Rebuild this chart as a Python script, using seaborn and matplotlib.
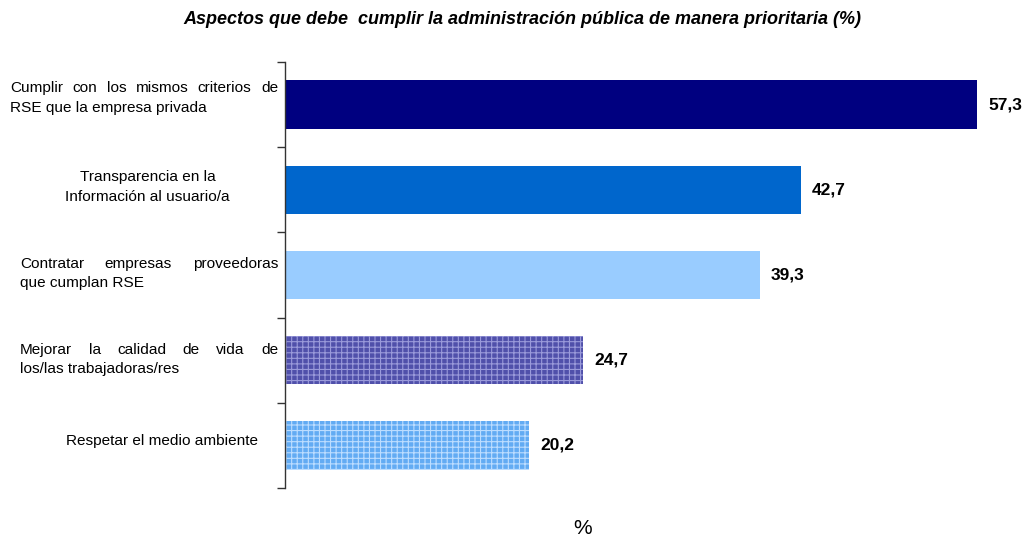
import matplotlib
matplotlib.use("Agg")
import matplotlib.pyplot as plt
from matplotlib.transforms import IdentityTransform
import seaborn as sns
import numpy as np

# Survey results
categorias = [
    "Cumplir con los mismos criterios de RSE que la empresa privada",
    "Transparencia en la Información al usuario/a",
    "Contratar empresas proveedoras que cumplan RSE",
    "Mejorar la calidad de vida de los/las trabajadoras/res",
    "Respetar el medio ambiente",
]
porcentajes = [57.3, 42.7, 39.3, 24.7, 20.2]
colores = ["#000080", "#0066CC", "#99CCFF", "#5050AA", "#62ABF3"]
tramas = [None, None, None, "+++", "+++"]
color_trama = [None, None, None, "#9A9ADA", "#BCDDFF"]

titulo = "Aspectos que debe  cumplir la administración pública de manera prioritaria (%)"
eje_x = "%"

sns.set_theme(style="white")
plt.rcParams["font.family"] = ["Liberation Sans", "DejaVu Sans"]
plt.rcParams["text.color"] = "black"
plt.rcParams["hatch.linewidth"] = 0.8

W, H = 1024, 543
fig = plt.figure(figsize=(W / 100, H / 100), dpi=100)
ax = fig.add_axes([285 / W, 1 - 488 / H, (1010 - 285) / W, (488 - 62) / H])

sns.barplot(x=porcentajes, y=categorias, hue=categorias, palette=colores,
            orient="h", width=0.57, legend=False, saturation=1, ax=ax)

for patch, trama, ct in zip(ax.patches, tramas, color_trama):
    patch.set_linewidth(0)
    if trama:
        patch.set_hatch(trama)
        patch.set_edgecolor(ct)

for cont in ax.containers:
    ax.bar_label(cont, fmt=lambda v: f"{v:.1f}".replace(".", ","),
                 padding=8, fontsize=12.5, fontweight="bold", color="black")

ax.set_xlim(0, 60)
ax.set_ylim(len(categorias) - 0.5, -0.5)
ax.set_yticks(np.arange(-0.5, len(categorias), 1))
ax.set_yticklabels([])
ax.set_xticks([])
ax.set_xlabel("")
ax.set_ylabel("")
ax.tick_params(axis="y", direction="out", length=6, width=1, color="#333333", left=True)
for s in ["top", "right", "bottom"]:
    ax.spines[s].set_visible(False)
ax.spines["left"].set_color("#333333")
ax.spines["left"].set_linewidth(1)

fig.text(522 / W, 1 - 20 / H, titulo, ha="center", va="center",
         fontsize=13, fontweight="bold", fontstyle="italic", color="black")
fig.text(583 / W, 1 - 528 / H, eje_x, ha="center", va="center", fontsize=15, color="black")

# Category labels, laid out in pixel coordinates
renderer = fig.canvas.get_renderer()
tf = IdentityTransform()
fs = 11.1

def linea_justificada(texto, x0, x1, y):
    palabras = texto.split()
    objs = [fig.text(0, H - y, p, transform=tf, fontsize=fs, va="center", ha="left",
                     color="black")
            for p in palabras]
    anchos = [o.get_window_extent(renderer).width for o in objs]
    hueco = (x1 - x0 - sum(anchos)) / (len(palabras) - 1)
    x = x0
    for o, a in zip(objs, anchos):
        o.set_x(x)
        x += a + hueco

def linea(texto, x, y, ha="left"):
    fig.text(x, H - y, texto, transform=tf, fontsize=fs, va="center", ha=ha, color="black")

linea_justificada("Cumplir con los mismos criterios de", 10, 278, 88)
linea("RSE que la empresa privada", 10, 108)
linea("Transparencia en la", 148, 177, "center")
linea("Información al usuario/a", 147, 197, "center")
linea_justificada("Contratar empresas proveedoras", 20, 278, 264)
linea("que cumplan RSE", 20, 283)
linea_justificada("Mejorar la calidad de vida de", 20, 278, 350)
linea("los/las trabajadoras/res", 20, 369)
linea("Respetar el medio ambiente", 162, 441, "center")

fig.savefig("out.png", dpi=100)
